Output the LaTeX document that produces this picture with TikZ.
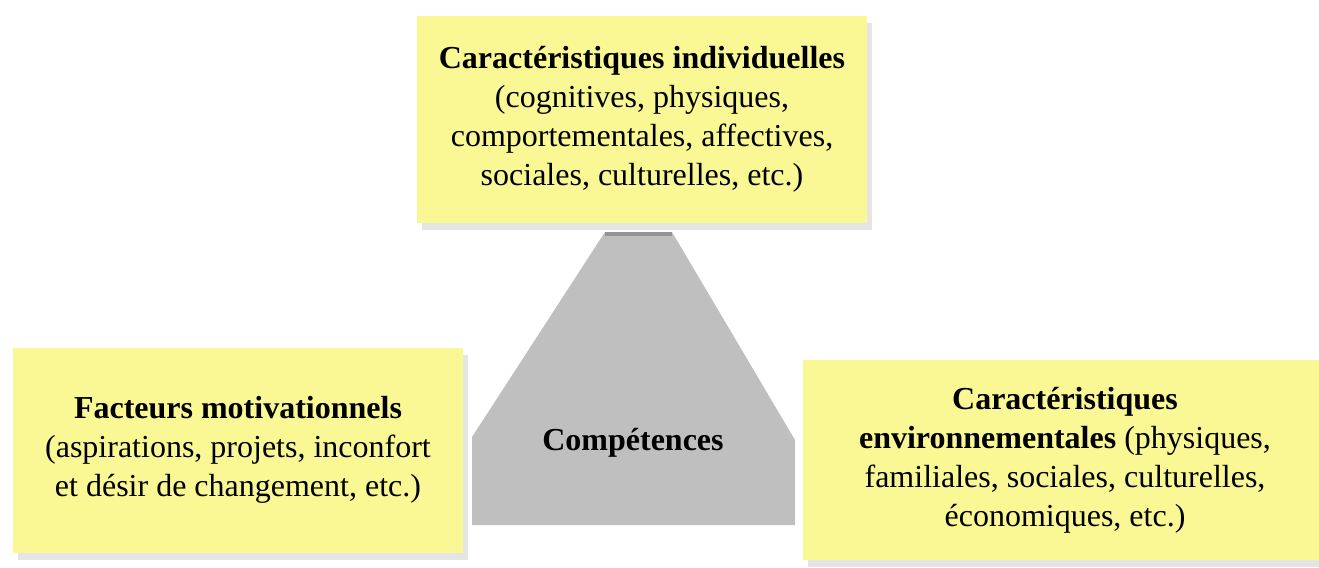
\documentclass[tikz,border=0pt]{standalone}
\usepackage{fontspec}
\setmainfont{Liberation Serif}
\usepackage{tikz}
\usetikzlibrary{positioning,shadows}

\definecolor{notejaune}{RGB}{250,248,148}

\tikzset{
  facteur/.style={fill=notejaune, align=center, inner sep=0pt,
     font=\fontsize{16}{19.5}\selectfont,
     drop shadow={shadow xshift=2.5pt, shadow yshift=-3.5pt, fill=black!10, opacity=1}},
}

\begin{document}
\begin{tikzpicture}[x=0.5pt,y=-0.5pt]
  \useasboundingbox (0,0) rectangle (1319,568);

  % le cone central
  \fill[black!25] (605,232) -- (672,232) -- (795,440) -- (795,525)
                  -- (472,525) -- (472,437) -- cycle;
  \fill[black!42] (605,232) rectangle (672,236);
      \node (comp) at (633,443) {\fontsize{16}{19.5}\selectfont\bfseries Compétences};

  % les trois facteurs
  \node[facteur, minimum width=225pt, minimum height=103.5pt] (indiv) at (642,119)
      {\textbf{Caractéristiques individuelles}\\
       (cognitives, physiques,\\
       comportementales, affectives,\\
       sociales, culturelles, etc.)};

  \node[facteur, minimum width=225pt, minimum height=102.5pt] (motiv) at (238,450)
      {\textbf{Facteurs motivationnels}\\
       (aspirations, projets, inconfort\\
       et désir de changement, etc.)};

  \node[facteur, minimum width=262pt, minimum height=100pt] (envir) at (1065,460)
      {\textbf{Caractéristiques}\\
       \textbf{environnementales} (physiques,\\
       familiales, sociales, culturelles,\\
       économiques, etc.)};

\end{tikzpicture}
\end{document}
